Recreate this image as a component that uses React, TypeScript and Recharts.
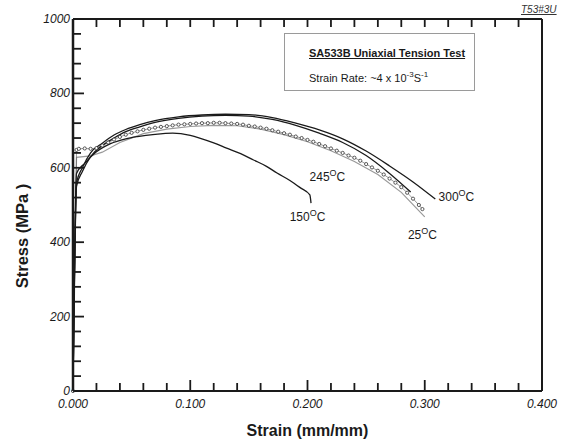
import React from 'react';
import { LineChart, Line, XAxis, YAxis, ReferenceDot } from 'recharts';

// Stress–strain records, strain in mm/mm, stress in MPa
const curve25C = [
  { strain: 0, stress: 0 }, { strain: 0.003, stress: 648 }, { strain: 0.005, stress: 651 },
  { strain: 0.01, stress: 652 }, { strain: 0.015, stress: 651 }, { strain: 0.02, stress: 653 },
  { strain: 0.025, stress: 660 }, { strain: 0.03, stress: 668 }, { strain: 0.035, stress: 676 },
  { strain: 0.04, stress: 683 }, { strain: 0.045, stress: 689 }, { strain: 0.05, stress: 694 },
  { strain: 0.055, stress: 698 }, { strain: 0.06, stress: 702 }, { strain: 0.065, stress: 705 },
  { strain: 0.07, stress: 708 }, { strain: 0.075, stress: 710 }, { strain: 0.08, stress: 712 },
  { strain: 0.085, stress: 714 }, { strain: 0.09, stress: 716 }, { strain: 0.095, stress: 717 },
  { strain: 0.1, stress: 718 }, { strain: 0.105, stress: 719 }, { strain: 0.11, stress: 720 },
  { strain: 0.115, stress: 720 }, { strain: 0.12, stress: 721 }, { strain: 0.125, stress: 721 },
  { strain: 0.13, stress: 720 }, { strain: 0.135, stress: 719 }, { strain: 0.14, stress: 718 },
  { strain: 0.145, stress: 716 }, { strain: 0.15, stress: 713 }, { strain: 0.155, stress: 711 },
  { strain: 0.16, stress: 708 }, { strain: 0.165, stress: 705 }, { strain: 0.17, stress: 701 },
  { strain: 0.175, stress: 697 }, { strain: 0.18, stress: 693 }, { strain: 0.185, stress: 689 },
  { strain: 0.19, stress: 684 }, { strain: 0.195, stress: 680 }, { strain: 0.2, stress: 675 },
  { strain: 0.205, stress: 670 }, { strain: 0.21, stress: 664 }, { strain: 0.215, stress: 658 },
  { strain: 0.22, stress: 652 }, { strain: 0.225, stress: 646 }, { strain: 0.23, stress: 640 },
  { strain: 0.235, stress: 633 }, { strain: 0.24, stress: 627 }, { strain: 0.245, stress: 619 },
  { strain: 0.25, stress: 610 }, { strain: 0.255, stress: 601 }, { strain: 0.26, stress: 592 },
  { strain: 0.265, stress: 582 }, { strain: 0.27, stress: 571 }, { strain: 0.275, stress: 560 },
  { strain: 0.28, stress: 548 }, { strain: 0.285, stress: 533 }, { strain: 0.29, stress: 517 },
  { strain: 0.295, stress: 500 }, { strain: 0.298, stress: 489 },
];

// Repeat test at 25 °C (grey trace)
const curve25CRepeat = [
  { strain: 0, stress: 0 }, { strain: 0.003, stress: 628 }, { strain: 0.015, stress: 632 },
  { strain: 0.025, stress: 642 }, { strain: 0.04, stress: 668 }, { strain: 0.06, stress: 692 },
  { strain: 0.08, stress: 704 }, { strain: 0.1, stress: 711 }, { strain: 0.12, stress: 714 },
  { strain: 0.14, stress: 713 }, { strain: 0.16, stress: 704 }, { strain: 0.18, stress: 689 },
  { strain: 0.2, stress: 670 }, { strain: 0.22, stress: 646 }, { strain: 0.24, stress: 617 },
  { strain: 0.26, stress: 582 }, { strain: 0.28, stress: 534 }, { strain: 0.3, stress: 468 },
];

const curve150C = [
  { strain: 0, stress: 0 }, { strain: 0.003, stress: 585 }, { strain: 0.01, stress: 612 },
  { strain: 0.02, stress: 643 }, { strain: 0.032, stress: 665 }, { strain: 0.045, stress: 678 },
  { strain: 0.055, stress: 684 }, { strain: 0.07, stress: 690 }, { strain: 0.085, stress: 693 },
  { strain: 0.1, stress: 687 }, { strain: 0.108, stress: 680 }, { strain: 0.12, stress: 667 },
  { strain: 0.131, stress: 653 }, { strain: 0.143, stress: 638 }, { strain: 0.154, stress: 621 },
  { strain: 0.165, stress: 604 }, { strain: 0.174, stress: 586 }, { strain: 0.185, stress: 566 },
  { strain: 0.194, stress: 546 }, { strain: 0.202, stress: 527 }, { strain: 0.203, stress: 505 },
];

const curve245C = [
  { strain: 0, stress: 0 }, { strain: 0.003, stress: 550 }, { strain: 0.008, stress: 590 },
  { strain: 0.015, stress: 630 }, { strain: 0.025, stress: 660 }, { strain: 0.035, stress: 680 },
  { strain: 0.045, stress: 697 }, { strain: 0.057, stress: 710 }, { strain: 0.07, stress: 722 },
  { strain: 0.09, stress: 733 }, { strain: 0.11, stress: 739 }, { strain: 0.13, stress: 741 },
  { strain: 0.15, stress: 739 }, { strain: 0.17, stress: 730 }, { strain: 0.19, stress: 714 },
  { strain: 0.21, stress: 693 }, { strain: 0.23, stress: 668 }, { strain: 0.25, stress: 633 },
  { strain: 0.27, stress: 585 }, { strain: 0.288, stress: 535 },
];

const curve300C = [
  { strain: 0, stress: 0 }, { strain: 0.003, stress: 560 }, { strain: 0.008, stress: 600 },
  { strain: 0.015, stress: 640 }, { strain: 0.025, stress: 666 }, { strain: 0.035, stress: 688 },
  { strain: 0.045, stress: 703 }, { strain: 0.057, stress: 716 }, { strain: 0.07, stress: 727 },
  { strain: 0.09, stress: 737 }, { strain: 0.11, stress: 742 }, { strain: 0.13, stress: 744 },
  { strain: 0.15, stress: 743 }, { strain: 0.17, stress: 735 }, { strain: 0.19, stress: 720 },
  { strain: 0.21, stress: 702 }, { strain: 0.23, stress: 678 }, { strain: 0.25, stress: 645 },
  { strain: 0.27, stress: 605 }, { strain: 0.29, stress: 562 }, { strain: 0.309, stress: 516 },
];

// Temperature tags placed next to their curves
const tempLabels = [
  { strain: 0.2, stress: 468, temp: '150' },
  { strain: 0.217, stress: 575, temp: '245' },
  { strain: 0.327, stress: 521, temp: '300' },
  { strain: 0.298, stress: 419, temp: '25' },
];

const xTicks = [
  0, 0.02, 0.04, 0.06, 0.08, 0.1, 0.12, 0.14, 0.16, 0.18, 0.2,
  0.22, 0.24, 0.26, 0.28, 0.3, 0.32, 0.34, 0.36, 0.38, 0.4,
];
const xMajor = [0, 0.1, 0.2, 0.3, 0.4];
const yTicks = [
  0, 40, 80, 120, 160, 200, 240, 280, 320, 360, 400, 440, 480, 520, 560,
  600, 640, 680, 720, 760, 800, 840, 880, 920, 960, 1000,
];
const yMajor = [0, 200, 400, 600, 800, 1000];

const FONT = '"Liberation Sans", Arial, Helvetica, sans-serif';
const INK = '#1a1a1a';
const TS = 6; // tickSize handed to the axes
const TM = 4; // tickMargin handed to the axes
const OFF = TS + TM; // distance from the axis line to the tick anchor

const isMajor = (list: number[], v: number) => list.some((m) => Math.abs(m - v) < 1e-9);

const BottomTick = (p: any) => {
  const v = p.payload.value;
  const axisY = p.y - OFF;
  const major = isMajor(xMajor, v);
  return (
    <g>
      <line x1={p.x} x2={p.x} y1={axisY} y2={axisY - (major ? 11 : 8)} stroke={INK} strokeWidth={1.8} />
      {major && (
        <text x={p.x} y={axisY + 17} textAnchor="middle" fontFamily={FONT} fontStyle="italic" fontSize={12} fill={INK}>
          {v.toFixed(3)}
        </text>
      )}
    </g>
  );
};

const TopTick = (p: any) => {
  const axisY = p.y + OFF;
  return <line x1={p.x} x2={p.x} y1={axisY} y2={axisY + 8} stroke={INK} strokeWidth={1.8} />;
};

const LeftTick = (p: any) => {
  const v = p.payload.value;
  const axisX = p.x + OFF;
  const major = isMajor(yMajor, v);
  return (
    <g>
      <line x1={axisX} x2={axisX + (major ? 11 : 8)} y1={p.y} y2={p.y} stroke={INK} strokeWidth={1.8} />
      {major && (
        <text x={axisX - 3} y={p.y + 4} textAnchor="end" fontFamily={FONT} fontStyle="italic" fontSize={12} fill={INK}>
          {v}
        </text>
      )}
    </g>
  );
};

const RightTick = (p: any) => {
  const axisX = p.x - OFF;
  return <line x1={axisX} x2={axisX - 8} y1={p.y} y2={p.y} stroke={INK} strokeWidth={1.8} />;
};

const TempTag = (temp: string) => (p: any) => (
  <text x={p.cx} y={p.cy + 4} textAnchor="middle" fontFamily={FONT} fontSize={12} fill={INK}>
    {temp}
    <tspan dy={-5} fontSize={9}>O</tspan>
    <tspan dy={5}>C</tspan>
  </text>
);

const StressTitle = (p: any) => {
  const vb = p.viewBox;
  const cx = vb.x + 22;
  const cy = vb.y + vb.height / 2 + 31;
  return (
    <text x={cx} y={cy} transform={`rotate(-90, ${cx}, ${cy})`} textAnchor="middle" dominantBaseline="central"
      fontFamily={FONT} fontWeight="bold" fontSize={16.5} fill={INK}>
      Stress (MPa )
    </text>
  );
};

const StrainTitle = (p: any) => {
  const vb = p.viewBox;
  return (
    <text x={vb.x + vb.width / 2} y={vb.y + 45} textAnchor="middle" fontFamily={FONT} fontWeight="bold" fontSize={16} fill={INK}>
      Strain (mm/mm)
    </text>
  );
};

export default function App() {
  return (
    <div style={{ position: 'absolute', left: 0, top: 0, width: 580, height: 441, background: '#fff' }}>
      <LineChart width={580} height={441} data={curve25C} margin={{ top: 18, right: 37, bottom: 0, left: 0 }}>
        <XAxis
          xAxisId="b" dataKey="strain" type="number" domain={[0, 0.4]} ticks={xTicks} interval={0}
          orientation="bottom" height={50} tickSize={TS} tickMargin={TM}
          axisLine={{ stroke: INK, strokeWidth: 2 }} tickLine={false} tick={<BottomTick />}
          label={{ content: <StrainTitle /> }}
        />
        <XAxis
          xAxisId="t" dataKey="strain" type="number" domain={[0, 0.4]} ticks={xTicks} interval={0}
          orientation="top" height={1} tickSize={TS} tickMargin={TM}
          axisLine={{ stroke: INK, strokeWidth: 2 }} tickLine={false} tick={<TopTick />}
        />
        <YAxis
          yAxisId="l" type="number" domain={[0, 1000]} ticks={yTicks} interval={0}
          orientation="left" width={73} tickSize={TS} tickMargin={TM}
          axisLine={{ stroke: INK, strokeWidth: 2.5 }} tickLine={false} tick={<LeftTick />}
          label={{ content: <StressTitle /> }}
        />
        <YAxis
          yAxisId="r" type="number" domain={[0, 1000]} ticks={yTicks} interval={0}
          orientation="right" width={1} tickSize={TS} tickMargin={TM}
          axisLine={{ stroke: INK, strokeWidth: 2 }} tickLine={false} tick={<RightTick />}
        />

        <Line xAxisId="b" yAxisId="l" data={curve25CRepeat} dataKey="stress" type="linear"
          stroke="#9a9a9a" strokeWidth={1.2} dot={false} isAnimationActive={false} />
        <Line xAxisId="b" yAxisId="l" data={curve25C} dataKey="stress" type="linear"
          stroke="#555" strokeWidth={0.6}
          dot={{ r: 1.6, fill: '#fff', stroke: '#333', strokeWidth: 0.8 }}
          isAnimationActive={false} />
        <Line xAxisId="b" yAxisId="l" data={curve150C} dataKey="stress" type="monotone"
          stroke={INK} strokeWidth={1.3} dot={false} isAnimationActive={false} />
        <Line xAxisId="b" yAxisId="l" data={curve245C} dataKey="stress" type="monotone"
          stroke={INK} strokeWidth={1.3} dot={false} isAnimationActive={false} />
        <Line xAxisId="b" yAxisId="l" data={curve300C} dataKey="stress" type="monotone"
          stroke={INK} strokeWidth={1.3} dot={false} isAnimationActive={false} />

        {tempLabels.map((t) => (
          <ReferenceDot key={t.temp} xAxisId="b" yAxisId="l" x={t.strain} y={t.stress} r={0}
            shape={TempTag(t.temp)} ifOverflow="visible" />
        ))}
      </LineChart>

      <div style={{
        position: 'absolute', left: 284, top: 33, width: 191, height: 58,
        border: '1px solid #9a9a9a', boxSizing: 'border-box', fontFamily: FONT, color: INK,
      }}>
        <div style={{ position: 'absolute', left: 24, top: 13, fontSize: 11, fontWeight: 'bold', textDecoration: 'underline', whiteSpace: 'nowrap' }}>
          SA533B Uniaxial Tension Test
        </div>
        <div style={{ position: 'absolute', left: 24, top: 36, fontSize: 11, whiteSpace: 'nowrap' }}>
          Strain Rate: ~4 x 10<sup style={{ fontSize: 8 }}>-3</sup>S<sup style={{ fontSize: 8 }}>-1</sup>
        </div>
      </div>

      <div style={{
        position: 'absolute', left: 521, top: 4, fontFamily: FONT, fontSize: 10, fontStyle: 'italic',
        textDecoration: 'underline', color: '#333',
      }}>
        T53#3U
      </div>
    </div>
  );
}
